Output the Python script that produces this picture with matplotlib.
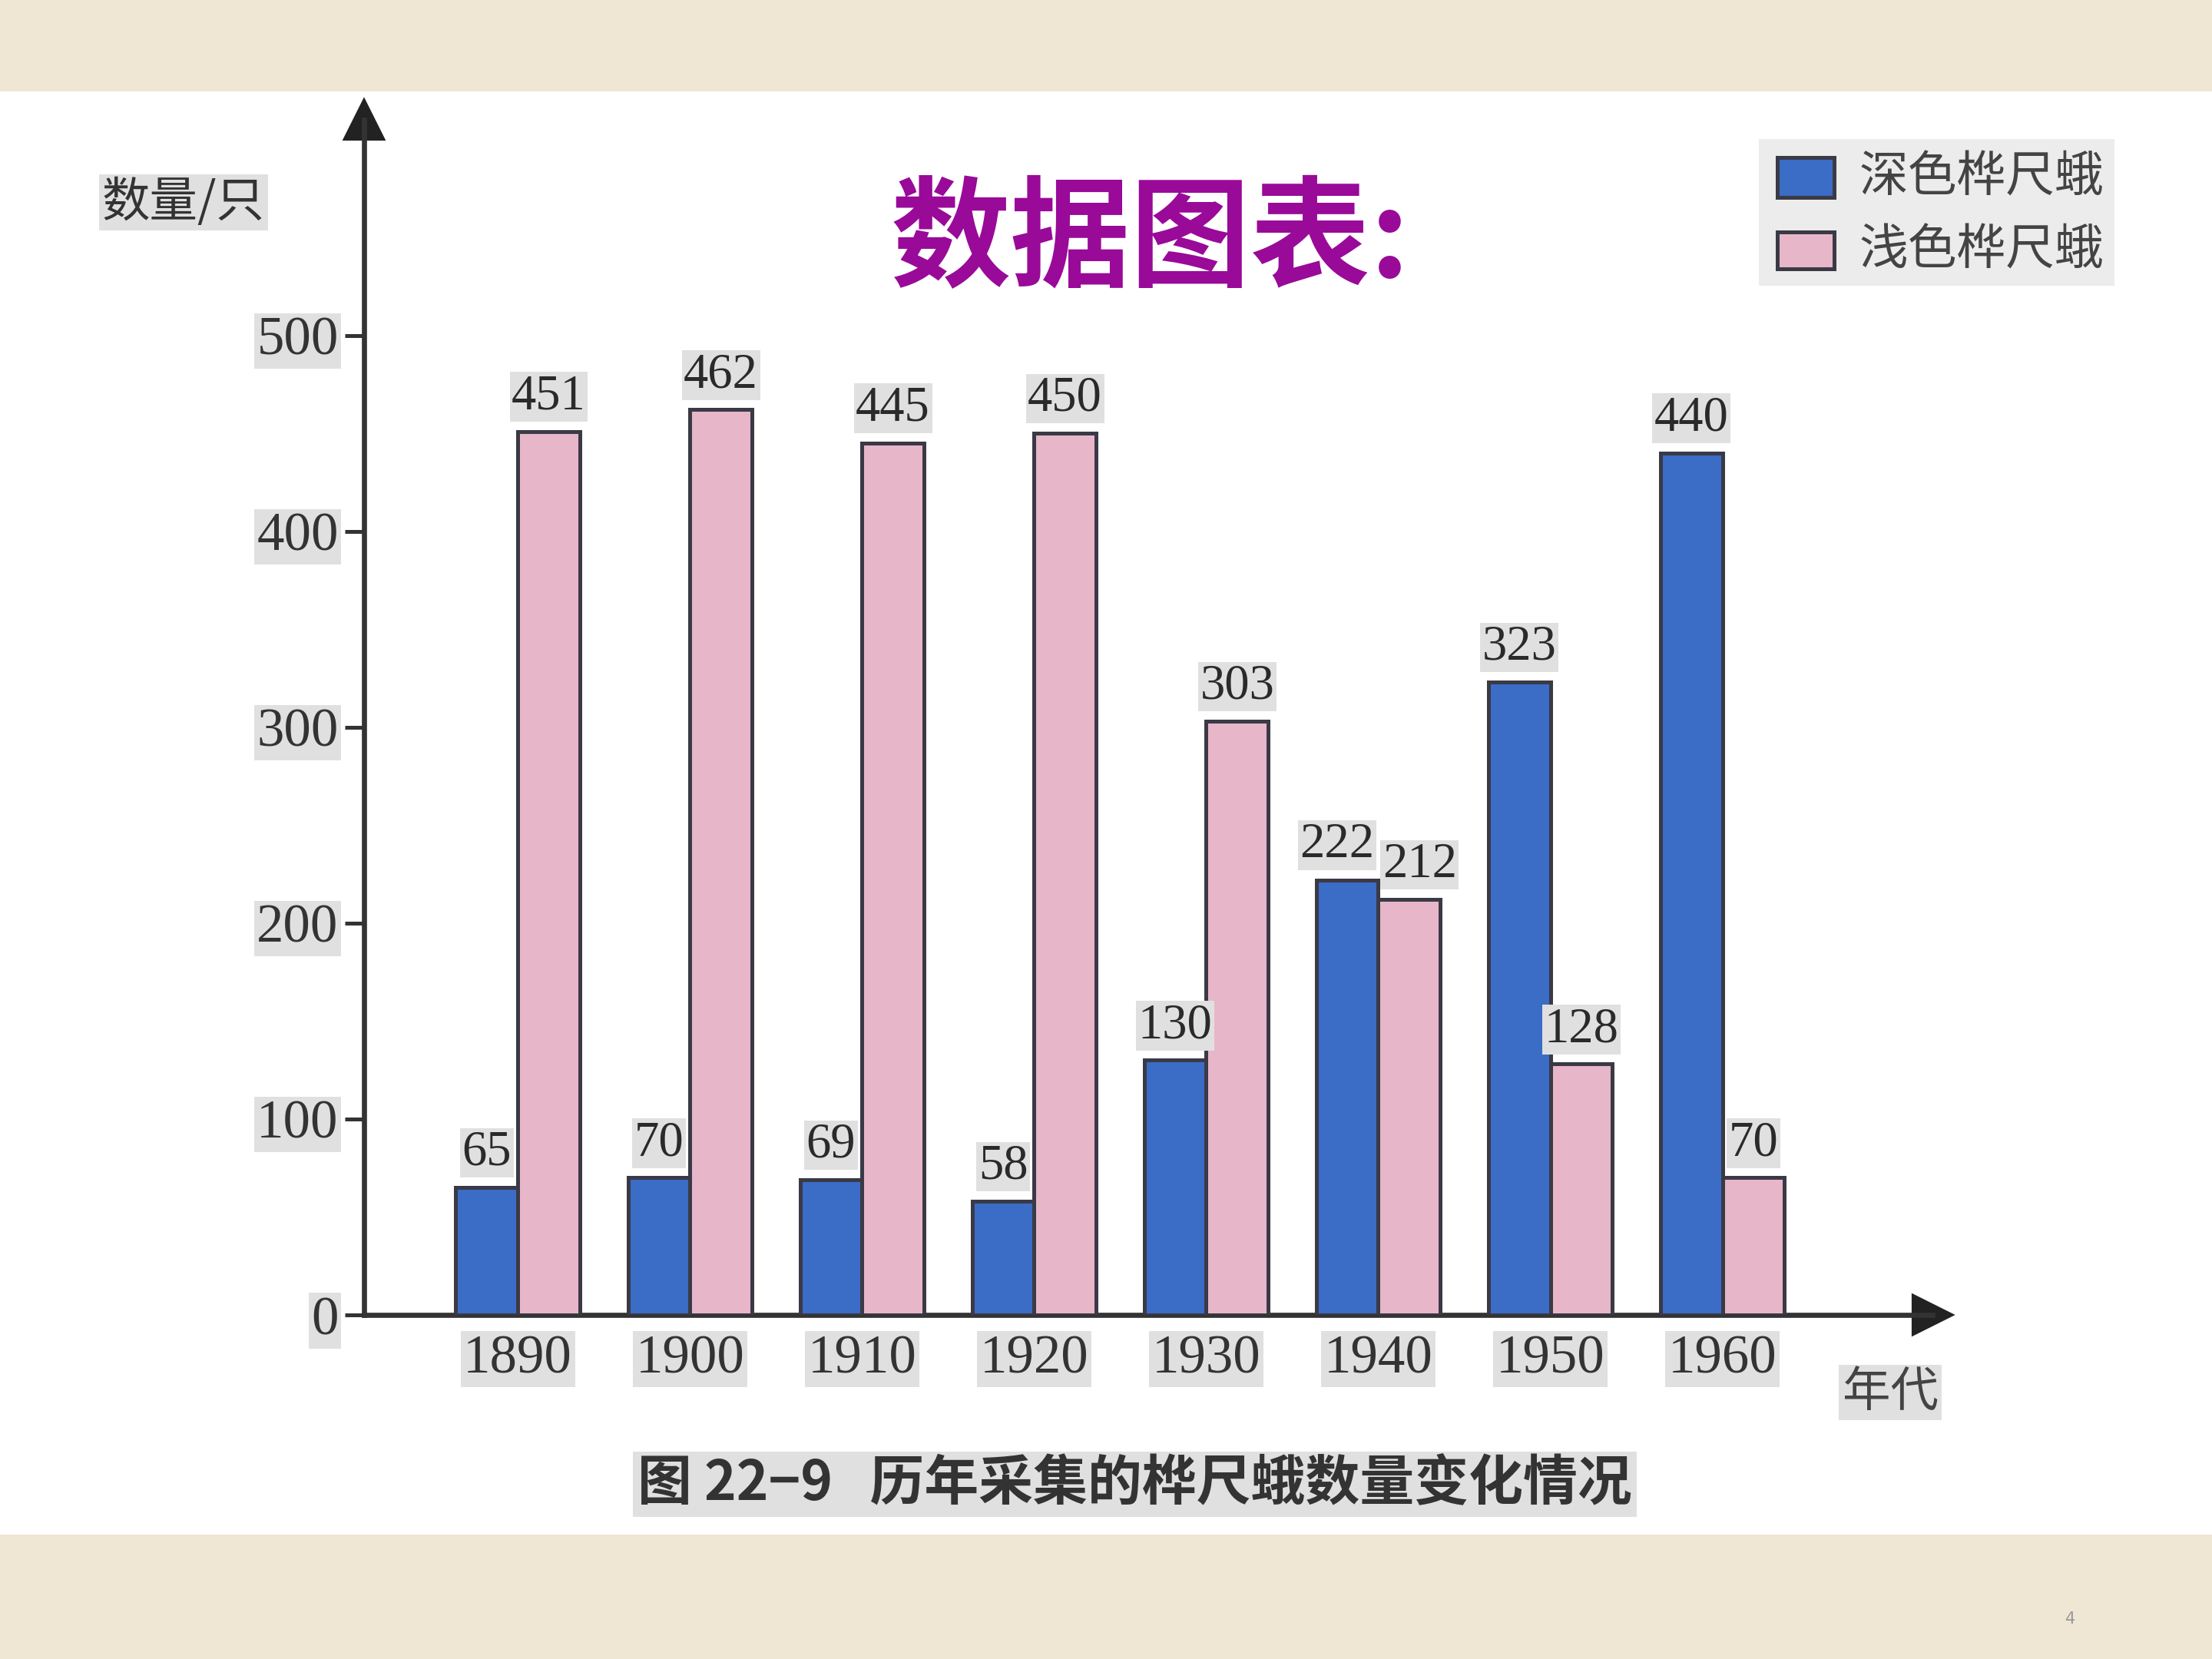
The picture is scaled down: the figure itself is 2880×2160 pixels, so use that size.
import matplotlib
matplotlib.use("Agg")
import matplotlib.pyplot as plt
from matplotlib.patches import Rectangle
import numpy as np

plt.rcParams['font.family'] = ['Noto Sans CJK SC', 'DejaVu Sans']

# ---- data ----
years = ["1890", "1900", "1910", "1920", "1930", "1940", "1950", "1960"]
dark_moth = [65, 70, 69, 58, 130, 222, 323, 440]
light_moth = [451, 462, 445, 450, 303, 212, 128, 70]
yticks = [0, 100, 200, 300, 400, 500]
series_names = ["深色桦尺蛾", "浅色桦尺蛾"]

BLUE = "#3B6CC6"
PINK = "#E8B6C9"
EDGE = "#3a3a46"
GRAYBOX = "#e0e0e0"
BEIGE = "#EFE6D3"
SERIF = "Liberation Serif"

fig = plt.figure(figsize=(9.6, 7.2), dpi=300, facecolor="white")

# slide background bands
fig.patches.append(Rectangle((0, 0.9447), 1, 0.0553, transform=fig.transFigure,
                             facecolor=BEIGE, edgecolor="none", zorder=0))
fig.patches.append(Rectangle((0, 0), 1, 0.0748, transform=fig.transFigure,
                             facecolor=BEIGE, edgecolor="none", zorder=0))

ax = fig.add_axes([0.1646, 0.2074, 0.709, 0.7204])
ax.set_facecolor("none")

x = np.arange(len(years))
w = 0.36
ax.bar(x - w / 2, dark_moth, width=w, color=BLUE, edgecolor=EDGE, linewidth=1.2, zorder=3)
ax.bar(x + w / 2, light_moth, width=w, color=PINK, edgecolor=EDGE, linewidth=1.2, zorder=3)

lbl_kw = dict(ha="center", va="bottom", fontsize=15.5, family=SERIF, color="#2a2a2a",
              bbox=dict(facecolor=GRAYBOX, edgecolor="none", pad=0.6), zorder=4)
for xi, d, l in zip(x, dark_moth, light_moth):
    close = abs(d - l) < 40
    dx = 0.06 if close else 0.0
    ax.text(xi - w / 2 - dx, d + 6, str(d), **lbl_kw)
    ax.text(xi + w / 2 + dx, l + 6, str(l), **lbl_kw)

ax.set_xlim(-0.893, 8.22)
ax.set_ylim(0, 610)
for s in ["top", "right"]:
    ax.spines[s].set_visible(False)
for s in ["left", "bottom"]:
    ax.spines[s].set_linewidth(1.6)
    ax.spines[s].set_color("#333333")

ax.set_yticks(yticks)
ax.set_yticklabels([str(t) for t in yticks], family=SERIF, fontsize=17, color="#333333")
ax.tick_params(axis="y", direction="out", length=6, width=1.2, color="#333333", pad=2)
ax.set_xticks(x)
ax.set_xticklabels(years, family=SERIF, fontsize=17, color="#333333")
ax.tick_params(axis="x", length=0, pad=6)
for t in ax.get_yticklabels() + ax.get_xticklabels():
    t.set_bbox(dict(facecolor=GRAYBOX, edgecolor="none", pad=0.8))

# axis arrows
ax.plot(1, 0, marker=">", markersize=12, color="#222222", transform=ax.transAxes, clip_on=False)
ax.plot(0, 1, marker="^", markersize=12, color="#222222", transform=ax.transAxes, clip_on=False)

# title
fig.text(0.52, 0.854, "数据图表:", ha="center", va="center", fontsize=37.5,
         fontweight="bold", color="#990A99")

# y axis label
fig.text(0.083, 0.878, "数量/只", ha="center", va="center", fontsize=15, color="#333333",
         bbox=dict(facecolor=GRAYBOX, edgecolor="none", pad=1))

# x axis label
fig.text(0.8546, 0.1607, "年代", ha="center", va="center", fontsize=15, color="#444444",
         bbox=dict(facecolor=GRAYBOX, edgecolor="none", pad=1))

# legend
fig.patches.append(Rectangle((0.795, 0.828), 0.161, 0.088, transform=fig.transFigure,
                             facecolor="#ececec", edgecolor="none", zorder=1))
fig.patches.append(Rectangle((0.8036, 0.881), 0.0255, 0.024, transform=fig.transFigure,
                             facecolor=BLUE, edgecolor=EDGE, linewidth=1.2, zorder=2))
fig.patches.append(Rectangle((0.8036, 0.838), 0.0255, 0.022, transform=fig.transFigure,
                             facecolor=PINK, edgecolor=EDGE, linewidth=1.2, zorder=2))
fig.text(0.8406, 0.893, series_names[0], ha="left", va="center", fontsize=15.3, color="#444444")
fig.text(0.8406, 0.849, series_names[1], ha="left", va="center", fontsize=15.3, color="#444444")

# caption
fig.text(0.513, 0.1054, "图 22−9   历年采集的桦尺蛾数量变化情况", ha="center", va="center",
         fontsize=17, fontweight="bold", color="#333333",
         bbox=dict(facecolor=GRAYBOX, edgecolor="none", pad=1.5))

# page number
fig.text(0.936, 0.024, "4", ha="center", va="center", fontsize=5, color="#999999",
         family="DejaVu Sans")

fig.savefig("out.png", dpi=300, facecolor=fig.get_facecolor())
